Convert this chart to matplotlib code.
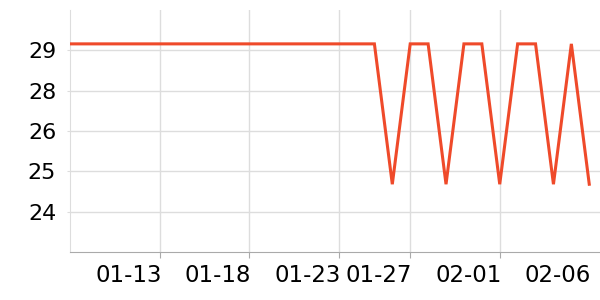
import datetime
import matplotlib
matplotlib.use("Agg")
import matplotlib.pyplot as plt
import matplotlib.dates as mdates
import matplotlib.transforms as mtransforms

# ---------- DATA ----------
start = datetime.date(2024, 1, 8)
dates = [start + datetime.timedelta(days=i) for i in range(30)]
values = [29.45] * 18 + [25.1, 29.45, 29.45, 25.1, 29.45, 29.45, 25.1,
                         29.45, 29.45, 25.1, 29.45, 25.1]

ytick_vals = [24.25, 25.5, 26.75, 28.0, 29.25]
ytick_labels = ["24", "25", "26", "28", "29"]
xtick_dates = [datetime.date(2024, 1, 13), datetime.date(2024, 1, 18),
               datetime.date(2024, 1, 23), datetime.date(2024, 1, 27),
               datetime.date(2024, 2, 1), datetime.date(2024, 2, 6)]

# ---------- PLOT ----------
fig = plt.figure(figsize=(6, 3), dpi=100)
ax = fig.add_axes([0.1167, 0.16, 0.8833, 0.8067])

ax.plot(dates, values, color="#ef4a2a", linewidth=2.2, solid_joinstyle="miter", zorder=3)

ax.set_xlim(mdates.date2num(start), mdates.date2num(start) + 29.6)
ax.set_ylim(23.0, 30.5)

ax.set_yticks(ytick_vals)
ax.set_yticklabels(ytick_labels)
ax.set_xticks(xtick_dates)
ax.xaxis.set_major_formatter(mdates.DateFormatter("%m-%d"))

ax.grid(True, color="#dddddd", linewidth=1)
ax.set_axisbelow(True)
for side in ["top", "right"]:
    ax.spines[side].set_visible(False)
ax.spines["left"].set_color("#dddddd")
ax.spines["bottom"].set_color("#aaaaaa")
ax.tick_params(axis="y", length=2, color="#dddddd", labelsize=16, pad=8)
ax.tick_params(axis="x", length=4, color="#aaaaaa", labelsize=16.5, pad=5)

# labels end at their tick, nudged a few pixels right
shift = mtransforms.ScaledTranslation(0.02, 0, fig.dpi_scale_trans)
for lbl in ax.get_xticklabels():
    lbl.set_horizontalalignment("right")
    lbl.set_transform(lbl.get_transform() + shift)

# last date has a label but no grid line or tick mark
ax.get_xgridlines()[-1].set_visible(False)
ax.xaxis.get_major_ticks()[-1].tick1line.set_visible(False)

fig.savefig("out.png", dpi=100)
